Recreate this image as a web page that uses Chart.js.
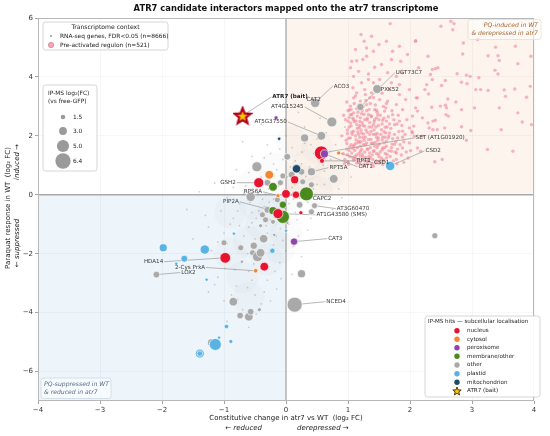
<!DOCTYPE html>
<html><head><meta charset="utf-8">
<script src="https://cdn.jsdelivr.net/npm/chart.js@4.4.0/dist/chart.umd.min.js"></script>
<style>html,body{margin:0;padding:0;background:#fff}canvas{display:block}</style>
</head><body>
<canvas id="c" width="550" height="436" style="width:550px;height:436px"></canvas>
<script>
// ---------------- DATA ----------------
const xTicks = [-4,-3,-2,-1,0,1,2,3,4];
const yTicks = [-6,-4,-2,0,2,4,6];
const sizeLegendFC = [1.5, 3.0, 5.0, 6.4];

// IP-MS hits: [constitutive log2FC (atr7 vs WT), PQ response log2FC, IP-MS log2FC]
const nucleus = [
 [0.57,1.42,5.8],[0.58,1.15,1.7],[-0.44,0.41,4.0],[0.14,0.51,3.1],[0.00,0.03,3.4],
 [0.16,0.00,2.8],[-0.13,-0.64,4.0],[0.24,-0.61,1.3],[-0.98,-2.14,4.3],[-0.35,-2.44,3.4]
];
const cytosol = [[0.85,1.42,1.3],[-0.27,0.68,3.4],[-0.13,-0.03,1.3],[-0.49,-2.58,1.5]];
const peroxisome = [[0.62,1.39,3.1],[-0.16,2.61,1.3],[0.13,-1.59,2.8]];
const membrane = [[0.33,0.03,5.8],[-0.21,0.27,3.4],[-0.05,-0.34,2.8],[-0.21,-0.54,3.1],[-0.05,-0.75,5.4]];
const other = [
 [1.47,3.59,3.5],[1.20,2.98,2.8],[0.47,3.12,3.7],[0.74,2.47,4.0],[0.57,2.00,3.4],
 [0.30,1.93,3.1],[0.02,1.29,2.5],[0.77,0.54,3.4],[-0.47,0.95,4.0],[-0.30,0.41,2.5],
 [-0.09,0.41,2.2],[-0.05,0.64,2.2],[0.09,0.68,2.6],[0.25,0.78,2.5],[0.41,0.78,3.1],
 [0.27,0.44,2.2],[0.41,0.34,2.2],[-0.57,-0.07,3.7],[-0.14,-0.17,2.2],[-0.30,-0.51,2.6],
 [-0.38,-0.68,2.2],[-0.33,-0.85,2.2],[-0.21,-0.92,1.7],[0.22,-0.34,2.5],[0.41,-0.58,2.2],
 [0.46,-0.37,2.2],[0.02,-0.95,1.0],[-0.41,-1.05,1.3],[2.40,-1.39,2.2],[0.25,-2.68,3.1],
 [0.14,-3.73,6.3],[-1.00,-1.63,2.2],[-0.73,-1.80,2.2],[-0.36,-1.49,3.3],[-0.52,-1.73,2.8],
 [-0.54,-1.97,2.2],[-0.46,-2.10,4.0],[-0.41,-1.97,3.4],[-0.19,-1.36,1.0],[-0.71,-2.27,1.0],
 [-0.85,-3.63,3.4],[-0.74,-4.10,2.5],[-0.60,-4.14,3.4],[-0.57,-3.97,2.5],[-0.43,-3.90,1.3],
 [-2.09,-2.71,2.5],[-1.20,-5.02,3.1]
];
const plastid = [
 [1.68,0.98,3.7],[-1.31,-1.86,3.7],[-1.98,-1.80,3.1],[-1.64,-2.17,2.6],[-1.77,-2.34,1.0],
 [-0.22,-1.90,1.9],[-0.84,-1.32,1.0],[-1.28,-2.88,1.0],[0.00,-1.22,1.0],[-0.96,-4.47,1.5],
 [-0.89,-4.98,1.3],[-1.08,-4.85,1.0],[-1.14,-5.08,4.9],[-1.39,-5.39,3.5],[-1.39,-5.39,2.0]
];
const mitochondrion = [[-0.11,1.90,1.0],[0.17,0.88,3.3]];
const bait = [[-0.70,2.68]];

// Pre-activated regulon (PQ-induced & derepressed), hand-read positions
const regulon = [
 [1.68,5.81],[1.21,5.44],[1.26,5.21],[1.38,5.38],[1.50,5.10],[1.62,5.21],[1.83,5.04],[1.72,4.87],[1.12,4.93],[1.30,4.98],
 [1.41,4.87],[1.30,4.70],[1.24,4.59],[1.06,4.53],[1.14,4.55],[1.70,4.59],[1.85,4.53],[1.54,4.42],[1.96,4.76],[2.09,5.21],
 [1.04,4.31],[1.17,4.19],[1.09,4.02],[1.33,4.10],[1.43,4.33],[1.64,4.14],[1.78,4.02],[1.88,4.14],[2.14,4.31],[2.12,3.29],
 [1.22,3.80],[1.33,3.91],[1.41,3.80],[1.51,3.91],[1.70,3.80],[1.83,3.74],[1.99,3.57],
 [1.08,3.63],[1.14,3.46],[1.27,3.57],[1.38,3.46],[1.49,3.63],[1.67,3.57],[1.83,3.40],[1.93,3.23],[2.09,2.95],
 [1.09,3.29],[1.20,3.18],[1.35,3.29],[1.51,3.23],[1.64,3.18],[1.78,3.06],[1.88,2.89],[2.04,2.67],
 [1.04,3.01],[1.17,2.95],[1.30,3.06],[1.43,2.89],[1.59,2.84],[1.72,2.72],[1.83,2.50],[1.99,2.27],
 [1.06,2.72],[1.20,2.61],[1.33,2.72],[1.46,2.61],[1.62,2.50],[1.75,2.38],[1.88,2.16],
 [1.04,2.44],[1.14,2.38],[1.27,2.33],[1.41,2.38],[1.54,2.21],[1.67,2.10],[1.80,1.93],
 [1.09,2.16],[1.22,2.10],[1.35,2.05],[1.49,1.93],[1.62,1.82],[1.75,1.71],
 [1.04,1.93],[1.17,1.82],[1.30,1.76],[1.43,1.65],[1.56,1.59],[1.70,1.48],
 [1.09,1.65],[1.22,1.54],[1.35,1.42],[1.49,1.37],[1.06,1.42],[1.20,1.31],[1.33,1.20],[1.46,1.14],[1.62,1.25],
 [1.14,1.08],[1.27,1.03],[1.41,0.97],[1.56,1.03],[1.01,1.03],[1.78,1.42],[1.88,1.59],[1.99,1.76],[2.07,1.99],
 [0.95,1.20],[0.98,1.55],[0.97,1.85],[0.99,2.20],[0.96,2.55],[1.00,2.85],[0.98,3.15],
 [1.03,1.30],[1.05,1.70],[1.07,2.05],[1.02,2.30],[1.08,2.60],[1.05,2.90],[1.10,3.10],
 [1.12,1.20],[1.11,1.50],[1.13,1.75],[1.12,2.00],[1.15,2.25],[1.13,2.50],[1.16,2.80],[1.12,3.35],
 [1.19,1.10],[1.18,1.40],[1.20,1.65],[1.19,1.95],[1.21,2.20],[1.23,2.45],[1.22,2.75],[1.25,3.00],
 [1.26,1.15],[1.27,1.45],[1.25,1.70],[1.28,1.95],[1.29,2.20],[1.27,2.55],[1.30,2.85],[1.28,3.40],
 [1.32,1.05],[1.34,1.30],[1.36,1.60],[1.33,1.88],[1.37,2.15],[1.35,2.45],[1.38,2.65],[1.36,3.10],
 [1.40,1.20],[1.42,1.50],[1.44,1.78],[1.41,2.05],[1.45,2.30],[1.43,2.55],[1.47,2.80],[1.44,3.05],
 [1.50,1.08],[1.52,1.45],[1.51,1.72],[1.53,2.05],[1.55,2.40],[1.52,2.70],[1.57,3.00],
 [1.58,1.15],[1.60,1.40],[1.62,1.65],[1.60,1.95],[1.63,2.30],[1.65,2.65],[1.61,2.95],
 [1.68,1.30],[1.70,1.60],[1.72,1.90],[1.69,2.25],[1.74,2.55],[1.71,2.85],
 [1.78,1.20],[1.80,1.55],[1.77,1.80],[1.82,2.15],[1.79,2.40],[1.86,1.35],[1.90,1.80],[1.92,2.05],[1.94,1.45],
 [0.92,1.40],[0.90,2.00],[0.93,2.70],[0.94,1.05],
 [1.00,1.10],[1.03,1.62],[1.06,2.12],[1.10,2.48],[1.08,1.25],[1.15,1.60],[1.17,2.05],[1.19,2.35],[1.23,1.00],[1.24,1.30],
 [1.26,1.85],[1.31,2.60],[1.31,1.55],[1.34,2.30],[1.38,1.75],[1.39,1.05],[1.42,2.20],[1.46,1.40],[1.48,1.85],[1.50,2.55],
 [1.54,1.25],[1.56,1.95],[1.58,2.60],[1.59,1.60],[1.64,1.05],[1.66,2.00],[1.67,2.40],[1.73,1.15],[1.75,2.05],[1.76,1.45],
 [1.81,2.70],[1.84,1.70],[1.87,2.35],[1.90,1.10],[1.95,2.55],[1.97,1.25],[2.01,1.50],[2.03,2.15],[1.02,2.62],[1.09,2.78],
 [1.18,3.05],[1.29,3.20],[1.41,3.30],[1.55,3.45],[1.62,3.10],[1.14,1.35],[1.21,1.80],[1.36,1.25],[1.47,1.60],[1.53,1.15],
 [1.44,2.05],[1.61,2.10],[1.71,1.72],[1.79,1.05],[1.88,1.95],
 [1.00,1.12],[1.09,1.17],[1.17,1.09],[1.31,1.14],[1.45,1.08],[1.57,1.18],
 [0.99,1.36],[1.11,1.30],[1.23,1.38],[1.29,1.27],[1.39,1.35],[1.50,1.29],[1.63,1.37],
 [1.02,1.50],[1.08,1.57],[1.20,1.48],[1.32,1.55],[1.41,1.47],[1.55,1.53],[1.66,1.49],
 [0.98,1.74],[1.10,1.69],[1.18,1.77],[1.28,1.70],[1.40,1.75],[1.48,1.68],[1.58,1.76],
 [1.01,1.92],[1.13,1.87],[1.24,1.94],[1.37,1.88],[1.46,1.95],[1.55,1.86],[1.65,1.93],
 [0.99,2.08],[1.16,2.13],[1.25,2.06],[1.31,2.12],[1.47,2.08],[1.58,2.14],
 [1.05,2.34],[1.18,2.28],[1.24,2.36],[1.38,2.30],[1.49,2.35],[1.60,2.29],
 [1.00,2.50],[1.09,2.55],[1.19,2.49],[1.31,2.54],[1.42,2.48],[1.56,2.53],
 [1.04,2.72],[1.15,2.67],[1.26,2.73],[1.37,2.68],[1.48,2.71],
 [1.02,2.88],[1.14,2.92],[1.23,2.86],[1.34,2.90],[1.46,2.87],
 [2.66,5.89],[2.71,5.81],[2.69,5.60],[2.50,5.72],[2.09,5.23],[2.86,5.15],[3.09,5.27],[3.38,5.01],[3.70,5.04],
 [2.29,4.70],[2.85,4.78],[3.26,4.72],[3.42,4.72],[3.44,4.56],[3.95,4.70],[3.74,4.45],[2.36,4.25],[2.41,4.28],
 [2.45,4.31],[2.33,4.08],[2.36,3.91],[2.76,4.11],[2.91,4.06],[2.97,4.02],[3.11,3.97],[3.37,4.23],[3.42,4.10],
 [2.27,3.74],[2.24,3.57],[2.51,3.71],[2.57,3.88],[2.83,3.82],[2.92,3.77],[3.06,3.57],[3.14,3.57],[3.26,3.54],
 [3.52,3.56],[3.69,3.59],[3.94,3.68],[3.54,3.34],[2.10,3.29],[2.30,3.42],[2.61,3.25],[2.74,3.15],[2.35,2.97],
 [2.49,3.01],[2.57,3.04],[2.59,2.95],[2.83,2.89],[3.04,2.95],[3.44,2.95],[3.88,3.31],[3.74,2.78],[2.12,2.84],
 [2.20,2.61],[2.58,2.72],[2.62,2.67],[2.41,2.53],[2.37,2.50],[2.29,2.44],[2.31,2.27],[2.37,2.21],[2.44,2.21],
 [2.56,2.27],[2.83,2.31],[2.98,2.18],[3.47,2.21],[3.96,2.38],[3.81,2.47],[2.04,2.10],[2.20,1.99],[2.91,1.85],
 [3.25,1.54],[3.66,1.48],[2.40,1.12],[2.52,1.20],[2.12,1.59],[2.17,1.48],[2.06,2.33]
];

// RNA-seq genes (FDR<0.05): hand-read sample of the background cloud
const rnaseq = [
 [-0.05,0.10],[0.10,0.25],[-0.20,-0.15],[0.20,0.55],[-0.35,-0.40],[0.05,-0.30],[-0.10,0.45],[0.30,0.10],[-0.45,0.05],[0.15,-0.60],
 [-0.25,-0.85],[-0.55,-0.60],[0.40,0.70],[-0.15,0.85],[0.25,1.05],[-0.60,-1.10],[-0.30,-1.30],[0.05,-1.00],[-0.75,-0.30],[0.50,0.35],
 [-0.40,0.60],[0.35,-0.25],[-0.05,1.20],[0.45,1.40],[0.10,1.60],[-0.20,1.05],[0.60,1.00],[0.70,0.55],[0.55,-0.15],[-0.65,0.30],
 [-0.85,-0.80],[-0.50,-1.50],[-0.20,-1.70],[-0.70,-1.80],[-0.40,-2.10],[-0.10,-2.30],[-0.90,-2.20],[-0.60,-2.60],[-0.30,-2.90],[-0.80,-3.10],
 [-0.50,-3.40],[-1.00,-3.60],[-0.70,-3.90],[-0.40,-3.70],[-1.10,-2.80],[-1.20,-1.90],[-1.00,-1.30],[-1.30,-0.70],[-0.95,-0.10],[-1.15,0.40],
 [0.80,1.70],[0.65,2.10],[0.30,2.30],[0.00,2.00],[-0.30,1.70],[-0.55,1.30],[-0.80,0.85],[0.85,0.20],[0.95,1.10],[0.75,-0.50],
 [0.40,-0.80],[0.20,-1.40],[0.00,-1.90],[0.25,-2.10],[-0.15,-3.20],[0.10,-2.70],[-0.95,-4.30],[-0.60,-4.50],[-1.25,-3.30],[-1.40,-2.40],
 [-1.50,-1.50],[-1.25,-1.10],[-1.60,-0.50],[-1.40,0.10],[-0.70,1.80],[-0.40,2.40],[0.20,2.80],[0.55,2.60],[0.95,2.30],[1.05,0.60],
 [-0.12,0.30],[0.08,0.00],[-0.28,0.20],[0.18,0.80],[-0.38,-0.15],[-0.18,-0.55],[0.02,0.60],[0.28,0.40],[-0.48,-0.80],[-0.08,-0.70],
 [-0.22,0.65],[0.12,-0.15],[-0.32,-1.05],[-0.58,-0.25],[0.38,0.95],[0.05,1.35],[-0.42,1.00],[0.62,0.80],[-0.68,-1.40],[-0.25,-1.95],
 [-0.52,-2.35],[-0.82,-2.55],[-0.18,-2.60],[-0.62,-3.15],[-0.35,-3.30],[-0.88,-3.40],[-1.05,-2.05],[-0.95,-1.65],[-0.75,-1.05],[-1.05,-0.55],
 [-0.85,0.25],[-0.60,0.75],[-0.25,1.40],[0.30,1.75],[0.50,1.90],[0.70,1.45],[0.85,0.90],[0.90,-0.10],[0.60,-0.60],[0.35,-1.20],
 [-0.02,-0.45],[0.14,0.35],[-0.33,0.02],[0.22,-0.12],[-0.44,-0.55],[-0.09,-1.15],[0.32,0.62],[-0.27,-0.25],[0.07,0.95],[-0.55,-0.95],
 [-0.16,-1.40],[0.44,0.20],[-0.36,-1.60],[-0.62,-2.00],[-0.46,-2.55],[-0.72,-2.30],[-0.28,-2.45],[-0.55,-2.90],[-0.78,-3.55],[-0.48,-4.05],
 [0.15,1.15],[0.52,1.20],[-0.35,1.25],[-0.10,1.55],[0.26,1.45],[0.62,0.35],[-0.68,0.05],[-0.78,-0.55],[0.48,-0.45],[0.18,-0.85],
 [-0.05,-1.55],[-0.90,-1.00],[-1.10,-1.60],[-0.98,-2.50],[-1.15,-3.05],[-0.25,-3.60],[-0.08,-2.85],[0.12,-1.75],[0.40,1.70],[0.72,1.20]
];
// density haze of the same cloud (where genes are densest)
const rnaseqDense = [
 [0,0],[-0.2,-0.5],[0.2,0.5],[-0.4,-1.0],[0.35,1.0],[-0.6,-1.6],[-0.3,-2.2],[-0.7,-2.8],[-0.6,-3.5],[0.5,1.6],
 [0.1,1.8],[-0.5,0.4],[0.5,0.1],[-0.9,-0.6],[0.0,-1.3],[-0.2,0.9],[-0.9,-2.0],[-0.1,-1.8],[0.7,0.7],[-0.5,-0.3]
];

// ---------------- STYLE / CONFIG ----------------
const FONT = 'DejaVu Sans, sans-serif';
const COLORS = {nucleus:'#e8132f', cytosol:'#f5862a', peroxisome:'#8c46aa', membrane:'#4b8a1f',
  other:'#a9a9a9', plastid:'#5bb3e4', mitochondrion:'#1f4b6b'};
const GROUPS = {nucleus, cytosol, peroxisome, membrane, other, plastid, mitochondrion, bait};
const rOf = fc => 1.1*fc + 0.6;
const toBubble = arr => arr.map(p => ({x:p[0], y:p[1], r:rOf(p[2])}));
const fmt = v => v < 0 ? '\u2212' + Math.abs(v) : String(v);

const LABELS = [
 {t:'ATR7 (bait)', g:'bait', i:0, at:[-0.22,3.32], bold:true},
 {t:'AT4G15245', g:'other', i:3, at:[-0.24,2.98]},
 {t:'ACO3', g:'other', i:2, at:[0.77,3.69]},
 {t:'CAT2', at:[0.33,3.22]},
 {t:'AT5G37550', g:'other', i:4, at:[-0.51,2.47]},
 {t:'UGT73C7', g:'other', i:1, at:[1.77,4.14]},
 {t:'PXK52', at:[1.53,3.56]},
 {t:'SET (AT1G01920)', g:'nucleus', i:0, at:[2.09,1.93]},
 {t:'CSD2', g:'plastid', i:0, at:[2.25,1.49]},
 {t:'CSD1', g:'cytosol', i:0, at:[1.42,1.08]},
 {t:'RPT1', g:'nucleus', i:1, at:[1.14,1.15]},
 {t:'CAT1', g:'peroxisome', i:0, at:[1.17,0.95]},
 {t:'RPT5A', g:'other', i:14, at:[0.70,0.92]},
 {t:'GSH2', g:'nucleus', i:2, at:[-0.81,0.41], align:'right'},
 {t:'RPS6A', g:'cytosol', i:2, at:[-0.68,0.10]},
 {t:'PIP2A', g:'membrane', i:3, at:[-0.76,-0.24], align:'right'},
 {t:'CAPC2', at:[0.43,-0.14]},
 {t:'AT3G60470', g:'other', i:25, at:[0.82,-0.47]},
 {t:'AT1G43580 (SMS)', g:'nucleus', i:6, at:[0.49,-0.68]},
 {t:'CAT3', g:'peroxisome', i:2, at:[0.68,-1.49]},
 {t:'NCED4', g:'other', i:30, at:[0.65,-3.63]},
 {t:'HDA14', g:'nucleus', i:8, at:[-1.98,-2.27], align:'right'},
 {t:'2-Cys PrxA', g:'cytosol', i:3, at:[-1.79,-2.47]},
 {t:'LOX2', g:'other', i:45, at:[-1.69,-2.64]}
];

function starPath(ctx, cx, cy, R, r){
  ctx.beginPath();
  for(let k=0;k<10;k++){
    const ang = -Math.PI/2 + k*Math.PI/5;
    const rr = k%2===0 ? R : r;
    const px = cx + rr*Math.cos(ang), py = cy + rr*Math.sin(ang);
    k===0 ? ctx.moveTo(px,py) : ctx.lineTo(px,py);
  }
  ctx.closePath();
}
const starImg = document.createElement('canvas');
starImg.width = 20; starImg.height = 20;
(function(){
  const c = starImg.getContext('2d');
  starPath(c,10,10.6,8.3,3.6);
  c.fillStyle='#f6c400'; c.fill();
  c.lineJoin='miter'; c.lineWidth=2.2; c.strokeStyle='#b0001c'; c.stroke();
})();

const PINK_INDEX = 8;

function labelGeom(chart, L){
  const {ctx, scales:{x,y}} = chart;
  ctx.font = (L.bold?'bold ':'') + '5.6px ' + FONT;
  const w = ctx.measureText(L.t).width;
  const ax = x.getPixelForValue(L.at[0]), ay = y.getPixelForValue(L.at[1]);
  const left = L.align==='right' ? ax - w : ax;
  const right = left + w;
  let tgt = null;
  if (L.g){ const p = GROUPS[L.g][L.i]; tgt = {x:x.getPixelForValue(p[0]), y:y.getPixelForValue(p[1])}; }
  return {w, ax, ay, left, right, tgt};
}

const deco = {
  id:'deco',
  beforeDraw(chart){
    const {ctx, chartArea:a, scales:{x,y}} = chart;
    const x0=x.getPixelForValue(0), y0=y.getPixelForValue(0);
    ctx.save();
    ctx.fillStyle='#ffffff'; ctx.fillRect(0,0,chart.width,chart.height);
    ctx.fillStyle='#fcf4ed'; ctx.fillRect(x0,a.top,a.right-x0,y0-a.top);
    ctx.fillStyle='#eef5fa'; ctx.fillRect(a.left,y0,x0-a.left,a.bottom-y0);
    ctx.restore();
  },
  beforeDatasetsDraw(chart){
    const {ctx, chartArea:a, scales:{x,y}} = chart;
    const x0=x.getPixelForValue(0), y0=y.getPixelForValue(0);
    ctx.save();
    ctx.strokeStyle='#a9a9a9'; ctx.lineWidth=1.3;
    ctx.beginPath(); ctx.moveTo(x0,a.top); ctx.lineTo(x0,a.bottom); ctx.stroke();
    ctx.beginPath(); ctx.moveTo(a.left,y0); ctx.lineTo(a.right,y0); ctx.stroke();
    ctx.restore();
  },
  afterDatasetDraw(chart, args){
    if (args.index !== PINK_INDEX) return;
    const {ctx} = chart;
    ctx.save();
    ctx.strokeStyle='#9a9a9a'; ctx.lineWidth=0.7;
    LABELS.forEach(L=>{
      const g = labelGeom(chart, L);
      if(!g.tgt) return;
      let sx;
      if (g.tgt.x > g.right) sx = g.right + 1;
      else if (g.tgt.x < g.left) sx = g.left - 1;
      else sx = (g.left+g.right)/2;
      ctx.beginPath(); ctx.moveTo(sx, g.ay); ctx.lineTo(g.tgt.x, g.tgt.y); ctx.stroke();
    });
    ctx.restore();
  },
  afterDatasetsDraw(chart){
    const {ctx, chartArea:a} = chart;
    ctx.save();
    ctx.strokeStyle='#b8b8b8'; ctx.lineWidth=1;
    ctx.strokeRect(a.left+0.5, a.top+0.5, a.right-a.left-1, a.bottom-a.top-1);
    ctx.textBaseline='middle';
    LABELS.forEach(L=>{
      const g = labelGeom(chart, L);
      ctx.font = (L.bold?'bold ':'') + '5.6px ' + FONT;
      ctx.fillStyle = L.bold ? '#222' : '#3a3a3a';
      ctx.textAlign='left';
      ctx.fillText(L.t, g.left, g.ay);
    });
    ctx.restore();
  },
  afterDraw(chart){
    const {ctx, chartArea:a} = chart;
    const cx = (a.left+a.right)/2;
    ctx.save();
    ctx.fillStyle='#111'; ctx.textAlign='center'; ctx.textBaseline='middle';
    ctx.font='bold 8.4px ' + FONT;
    ctx.fillText('ATR7 candidate interactors mapped onto the atr7 transcriptome', cx, 8.5);
    ctx.fillStyle='#222';
    ctx.font='7px ' + FONT;
    ctx.fillText('Constitutive change in atr7 vs WT  (log\u2082 FC)', cx, 418);
    ctx.font='italic 7px ' + FONT;
    ctx.textAlign='right'; ctx.fillText('\u2190 reduced', cx-24, 428);
    ctx.textAlign='left'; ctx.fillText('derepressed \u2192', cx+11, 428);
    ctx.save();
    ctx.translate(8.5, 208); ctx.rotate(-Math.PI/2);
    ctx.textAlign='center'; ctx.font='7px ' + FONT;
    ctx.fillText('Paraquat response in WT  (log\u2082 FC)', 0, 0);
    ctx.restore();
    ctx.save();
    ctx.translate(17.5, 0); ctx.rotate(-Math.PI/2);
    ctx.textAlign='center'; ctx.font='italic 7px ' + FONT;
    ctx.fillText('\u2190 suppressed', -243, 0);
    ctx.fillText('induced \u2192', -162, 0);
    ctx.restore();

    const box = (x0,y0,x1,y1,stroke,fill)=>{
      ctx.beginPath();
      if (ctx.roundRect) ctx.roundRect(x0,y0,x1-x0,y1-y0,2.5); else ctx.rect(x0,y0,x1-x0,y1-y0);
      ctx.fillStyle=fill; ctx.fill(); ctx.strokeStyle=stroke; ctx.lineWidth=0.8; ctx.stroke();
    };
    box(43,22,168,50,'#cccccc','rgba(255,255,255,0.88)');
    ctx.fillStyle='#222'; ctx.textAlign='center'; ctx.font='6.1px ' + FONT;
    ctx.fillText('Transcriptome context', 105.5, 27.8);
    ctx.textAlign='left'; ctx.font='5.9px ' + FONT;
    ctx.beginPath(); ctx.arc(51,36,1.1,0,Math.PI*2); ctx.fillStyle='#999'; ctx.fill();
    ctx.fillStyle='#222'; ctx.fillText('RNA-seq genes, FDR<0.05 (n=8666)', 60, 36.3);
    ctx.beginPath(); ctx.arc(51,45,2.6,0,Math.PI*2); ctx.fillStyle='#f4a9b8'; ctx.fill();
    ctx.strokeStyle='#e07a92'; ctx.lineWidth=0.8; ctx.stroke();
    ctx.fillStyle='#222'; ctx.fillText('Pre-activated regulon (n=521)', 60, 45.3);
    box(43,85,97,171,'#cccccc','rgba(255,255,255,0.88)');
    ctx.fillStyle='#222'; ctx.font='5.9px ' + FONT; ctx.textAlign='left';
    ctx.fillText('IP-MS log\u2082(FC)', 48, 93.5);
    ctx.fillText('(vs free-GFP)', 48, 101);
    const sy = [117,131,146,161];
    sizeLegendFC.forEach((v,k)=>{
      ctx.beginPath(); ctx.arc(63, sy[k], rOf(v), 0, Math.PI*2);
      ctx.fillStyle='#9a9a9a'; ctx.fill();
      ctx.fillStyle='#222'; ctx.fillText(v.toFixed(1), 73, sy[k]);
    });
    box(425,316,540,397,'#cccccc','rgba(255,255,255,0.9)');
    ctx.fillStyle='#222'; ctx.font='5.6px ' + FONT; ctx.textAlign='left';
    ctx.fillText('IP-MS hits \u2014 subcellular localisation', 428, 321.8);
    const items = [['nucleus',COLORS.nucleus],['cytosol',COLORS.cytosol],['peroxisome',COLORS.peroxisome],
      ['membrane/other',COLORS.membrane],['other',COLORS.other],['plastid',COLORS.plastid],['mitochondrion',COLORS.mitochondrion]];
    const iy = [330.7,339.3,347.7,356.3,365,373.7,382.3,391];
    items.forEach((it,k)=>{
      ctx.beginPath(); ctx.arc(457, iy[k], 2.7, 0, Math.PI*2); ctx.fillStyle=it[1]; ctx.fill();
      ctx.fillStyle='#222'; ctx.fillText(it[0], 467, iy[k]);
    });
    starPath(ctx, 457, iy[7]+0.4, 4.4, 1.9);
    ctx.fillStyle='#f6c400'; ctx.fill(); ctx.strokeStyle='#3a2a00'; ctx.lineWidth=0.9; ctx.stroke();
    ctx.fillStyle='#222'; ctx.fillText('ATR7 (bait)', 467, iy[7]);
    box(468,19.5,541,39.5,'#eadccd','rgba(255,255,255,0.55)');
    ctx.fillStyle='#a5652c'; ctx.font='italic 6.1px ' + FONT; ctx.textAlign='right';
    ctx.fillText('PQ-induced in WT', 538, 25.3);
    ctx.fillText('& derepressed in atr7', 538, 33.8);
    box(41,378,111,398.5,'#cad9e5','rgba(255,255,255,0.6)');
    ctx.fillStyle='#4f6b86'; ctx.textAlign='left';
    ctx.fillText('PQ-suppressed in WT', 44, 384.3);
    ctx.fillText('& reduced in atr7', 44, 392.5);
    ctx.restore();
  }
};

const hitDS = (name, arr) => ({
  type:'bubble', label:name, data: toBubble(arr),
  backgroundColor: COLORS[name], borderColor:'rgba(255,255,255,0.95)', borderWidth:0.7
});

const datasets = [
  {type:'scatter', label:'bait', data: bait.map(p=>({x:p[0],y:p[1]})), pointStyle: starImg, pointRadius:9},
  hitDS('peroxisome', peroxisome),
  hitDS('cytosol', cytosol),
  hitDS('nucleus', nucleus),
  hitDS('mitochondrion', mitochondrion),
  hitDS('membrane', membrane),
  hitDS('plastid', plastid),
  hitDS('other', other),
  {type:'scatter', label:'regulon', data: regulon.map(p=>({x:p[0],y:p[1]})),
    pointRadius:1.7, backgroundColor:'rgba(240,125,148,0.55)', borderWidth:0},
  {type:'scatter', label:'rnaseq', data: rnaseq.map(p=>({x:p[0],y:p[1]})),
    pointRadius:0.9, backgroundColor:'rgba(120,120,120,0.33)', borderWidth:0},
  {type:'scatter', label:'dense', data: rnaseqDense.map(p=>({x:p[0],y:p[1]})),
    pointRadius:16, backgroundColor:'rgba(150,150,150,0.035)', borderWidth:0}
];

const tickFont = {family: FONT, size: 7};
new Chart(document.getElementById('c'), {
  type:'bubble',
  data:{datasets},
  options:{
    responsive:false, animation:false, devicePixelRatio:1,
    layout:{padding:{left:0,right:6,top:18,bottom:0}},
    plugins:{legend:{display:false}, tooltip:{enabled:false}},
    scales:{
      x:{type:'linear', min:-4, max:4,
        afterBuildTicks: s => { s.ticks = xTicks.map(v=>({value:v})); },
        afterFit: s => { s.height = 35; },
        ticks:{font:tickFont, color:'#333', padding:2, maxRotation:0, autoSkip:false, callback: v => fmt(v)},
        grid:{color:'rgba(0,0,0,0.06)', lineWidth:0.6, tickLength:3, tickColor:'#666', drawTicks:true},
        border:{display:false}},
      y:{type:'linear', min:-7, max:6,
        afterBuildTicks: s => { s.ticks = yTicks.map(v=>({value:v})); },
        afterFit: s => { s.width = 38; },
        ticks:{font:tickFont, color:'#333', padding:2, autoSkip:false, callback: v => fmt(v)},
        grid:{color:'rgba(0,0,0,0.06)', lineWidth:0.6, tickLength:3, tickColor:'#666', drawTicks:true},
        border:{display:false}}
    }
  },
  plugins:[deco]
});
</script>
</body></html>
